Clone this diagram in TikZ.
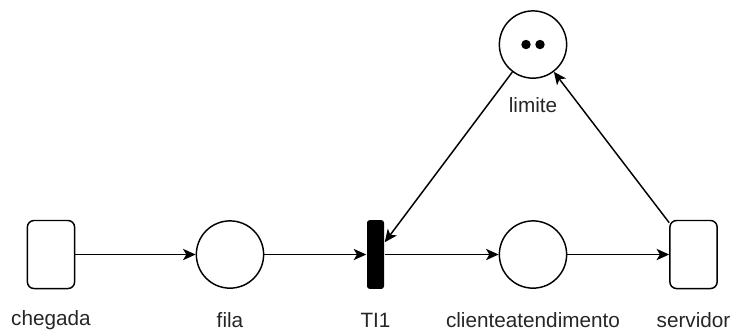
\documentclass[tikz,border=0pt]{standalone}
\usepackage{fontspec}
\setmainfont{Liberation Sans}
\usepackage{tikz}
\usetikzlibrary{%
	arrows.meta%
}

\begin{document}
\begin{tikzpicture}[
        >={Stealth[length=9.5pt,width=8.5pt,inset=2.5pt]},
        line width=1.1pt,
        place/.style={draw, circle, minimum size=1.78cm, inner sep=0pt},
        server/.style={draw, rounded corners=5pt, minimum width=1.25cm,
        	minimum height=1.80cm, inner sep=0pt},
        trans/.style={fill=black, rounded corners=2pt, minimum width=0.45cm,
        	minimum height=1.82cm, inner sep=0pt},
        token/.style={fill=black, circle, minimum size=0.25cm, inner sep=0pt},
        lbl/.style={font={\fontsize{15.6}{18}\selectfont}, text=black!85}
    ]

    \useasboundingbox (0,0) rectangle (19.367,8.758);

    %Places and transitions
    \node[server] (chegada) at (1.349,2.024) {};
    \node[place] (fila) at (6.085,2.024) {};
    \node[trans] (ti1) at (9.935,2.024) {};
    \node[place] (atend) at (14.102,2.024) {};
    \node[server] (servidor) at (18.349,2.024) {};
    \node[place] (limite) at (14.102,7.580) {};

    %tokens
    \node[token] (tk1) at (13.917,7.580) {};
    \node[token] (tk2) at (14.287,7.580) {};

    %labels
    \node[lbl] (lchegada) at (1.349,0.291) {chegada};
    \node[lbl] (lfila) at (6.085,0.291) {fila};
    \node[lbl] (lti1) at (9.935,0.291) {TI1};
    \node[lbl] (latend) at (14.102,0.291) {clienteatendimento};
    \node[lbl] (lservidor) at (18.349,0.291) {servidor};
    \node[lbl] (llimite) at (14.102,5.980) {limite};

    %arcs
    \draw[->] (chegada) -- (fila);
    \draw[->] (fila) -- (ti1);
    \draw[->] (ti1) -- (atend);
    \draw[->] (atend) -- (servidor);
    \draw[->] (servidor) -- (limite);
    \draw[->] (limite) -- (ti1);
\end{tikzpicture}
\end{document}
